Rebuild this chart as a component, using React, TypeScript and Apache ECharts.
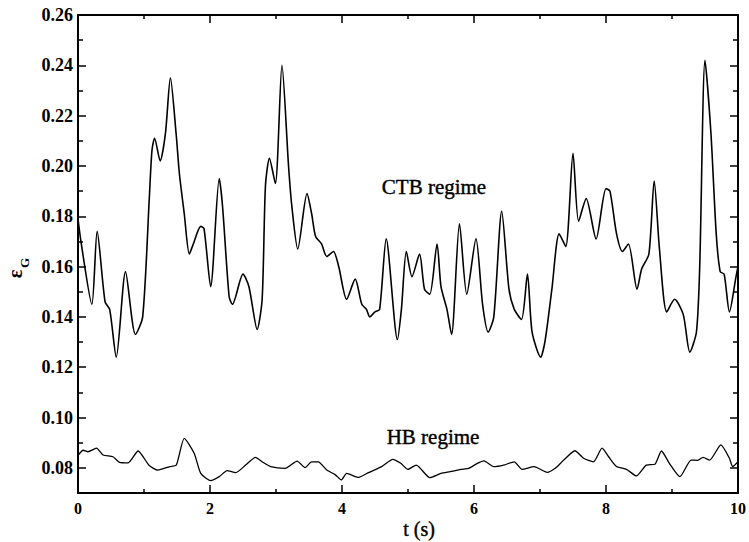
import React, { useEffect, useRef } from "react";
import * as echarts from "echarts";

// CTB regime: [t (s), epsilon_G]
const ctbPoints: [number, number][] = [
  [0, 0.179], [0.05, 0.169], [0.21, 0.145], [0.29, 0.174], [0.41, 0.146], [0.48, 0.143],
  [0.58, 0.124], [0.72, 0.158], [0.87, 0.133], [0.98, 0.140], [1.08, 0.187], [1.12, 0.206],
  [1.16, 0.211], [1.245, 0.202], [1.325, 0.213], [1.40, 0.235], [1.486, 0.213], [1.536, 0.197],
  [1.61, 0.181], [1.687, 0.165], [1.747, 0.169], [1.86, 0.176], [1.91, 0.175], [2.01, 0.152],
  [2.14, 0.195], [2.19, 0.184], [2.29, 0.148], [2.34, 0.145], [2.50, 0.157], [2.59, 0.152],
  [2.715, 0.135], [2.79, 0.147], [2.84, 0.192], [2.90, 0.203], [2.99, 0.193], [3.09, 0.240],
  [3.19, 0.200], [3.24, 0.184], [3.33, 0.167], [3.47, 0.189], [3.54, 0.181], [3.60, 0.172],
  [3.69, 0.169], [3.77, 0.164], [3.87, 0.166], [3.95, 0.160], [4.07, 0.147], [4.20, 0.155],
  [4.30, 0.145], [4.37, 0.143], [4.42, 0.140], [4.50, 0.142], [4.57, 0.143], [4.67, 0.171],
  [4.84, 0.131], [4.90, 0.143], [4.975, 0.166], [5.06, 0.156], [5.175, 0.165], [5.25, 0.151],
  [5.33, 0.149], [5.44, 0.169], [5.50, 0.152], [5.59, 0.143], [5.66, 0.133], [5.78, 0.177],
  [5.89, 0.149], [6.03, 0.171], [6.13, 0.145], [6.215, 0.134], [6.30, 0.140], [6.42, 0.182],
  [6.53, 0.151], [6.61, 0.143], [6.72, 0.139], [6.81, 0.157], [6.88, 0.134], [7.01, 0.124],
  [7.08, 0.131], [7.18, 0.151], [7.29, 0.173], [7.39, 0.168], [7.50, 0.205], [7.585, 0.178],
  [7.70, 0.187], [7.85, 0.171], [8.00, 0.191], [8.06, 0.190], [8.16, 0.173], [8.25, 0.166],
  [8.34, 0.169], [8.47, 0.151], [8.54, 0.159], [8.65, 0.165], [8.73, 0.194], [8.81, 0.167],
  [8.92, 0.142], [9.04, 0.147], [9.17, 0.141], [9.27, 0.126], [9.37, 0.134], [9.42, 0.160],
  [9.50, 0.242], [9.59, 0.213], [9.67, 0.173], [9.73, 0.158], [9.79, 0.157], [9.87, 0.142],
  [9.97, 0.156], [10, 0.160],
];

// HB regime: [t (s), epsilon_G]
const hbPoints: [number, number][] = [
  [0, 0.085], [0.08, 0.087], [0.15, 0.0864], [0.28, 0.0878], [0.38, 0.0851], [0.53, 0.0844],
  [0.63, 0.0822], [0.76, 0.082], [0.91, 0.0867], [1.08, 0.0809], [1.21, 0.0791], [1.39, 0.0805],
  [1.49, 0.0811], [1.61, 0.0917], [1.76, 0.0858], [1.86, 0.0778], [2.01, 0.0749], [2.14, 0.0765],
  [2.26, 0.0789], [2.39, 0.0781], [2.54, 0.0811], [2.69, 0.0842], [2.79, 0.0824], [2.92, 0.0805],
  [3.14, 0.0798], [3.32, 0.0827], [3.44, 0.0801], [3.54, 0.0824], [3.64, 0.0824], [3.77, 0.0791],
  [3.90, 0.0772], [3.99, 0.0752], [4.07, 0.0778], [4.25, 0.0762], [4.40, 0.0781], [4.60, 0.0805],
  [4.77, 0.0834], [4.89, 0.0818], [5.0, 0.0794], [5.125, 0.0811], [5.33, 0.0761], [5.50, 0.0778],
  [5.64, 0.0785], [5.80, 0.0794], [5.92, 0.0798], [6.05, 0.0818], [6.15, 0.0828], [6.30, 0.0805],
  [6.45, 0.0811], [6.61, 0.0824], [6.73, 0.0794], [6.91, 0.0805], [7.11, 0.0782], [7.23, 0.0798],
  [7.36, 0.0831], [7.53, 0.0868], [7.66, 0.0838], [7.81, 0.0824], [7.94, 0.0878], [8.04, 0.0844],
  [8.16, 0.0805], [8.31, 0.0794], [8.46, 0.0768], [8.61, 0.0811], [8.74, 0.0814], [8.84, 0.0867],
  [8.96, 0.0818], [9.12, 0.0765], [9.29, 0.0831], [9.39, 0.083], [9.47, 0.0842], [9.57, 0.0831],
  [9.74, 0.0891], [9.87, 0.0838], [9.92, 0.0805], [10, 0.0824],
];

const yMajorTicks = [0.08, 0.10, 0.12, 0.14, 0.16, 0.18, 0.20, 0.22, 0.24, 0.26];
const yMinorTicks = [0.07, 0.09, 0.11, 0.13, 0.15, 0.17, 0.19, 0.21, 0.23, 0.25];
const xRange = [0, 10];
const yRange = [0.07, 0.26];

const FONT = "Liberation Serif";
const BLACK = "#000";

export default function App() {
  const ref = useRef<HTMLDivElement>(null);
  useEffect(() => {
    if (!ref.current) return;
    const chart = echarts.init(ref.current, undefined, { renderer: "svg" });
    const lineAxis = { show: true, onZero: false, lineStyle: { color: BLACK, width: 2 } };
    const xAxisBase = (pos: "top" | "bottom", labels: boolean) => ({
      type: "value",
      min: xRange[0],
      max: xRange[1],
      interval: 2,
      position: pos,
      axisLine: lineAxis,
      axisTick: { show: true, inside: true, length: 8, lineStyle: { color: BLACK, width: 1.5 } },
      minorTick: { show: true, splitNumber: 2, length: 4, lineStyle: { color: BLACK, width: 1.5 } },
      splitLine: { show: false },
      minorSplitLine: { show: false },
      axisLabel: {
        show: labels,
        color: BLACK,
        fontFamily: FONT,
        fontWeight: "bold",
        fontSize: 16,
        margin: 7,
      },
    });
    const yAxisBase = (pos: "left" | "right", ticks: number[], len: number, labels: boolean) => ({
      type: "value",
      min: yRange[0],
      max: yRange[1],
      position: pos,
      axisLine: lineAxis,
      splitLine: { show: false },
      axisTick: {
        show: true,
        inside: true,
        length: len,
        customValues: ticks,
        lineStyle: { color: BLACK, width: 1.5 },
      },
      axisLabel: {
        show: labels,
        customValues: yMajorTicks,
        formatter: (v: number) => v.toFixed(2),
        color: BLACK,
        fontFamily: FONT,
        fontWeight: "bold",
        fontSize: 18,
        margin: 5,
      },
    });
    const annot = (text: string, x: number, y: number, size: number) => ({
      type: "text",
      x,
      y,
      style: {
        text,
        fontFamily: FONT,
        fontWeight: "normal",
        fontSize: size,
        fill: BLACK,
        stroke: BLACK,
        lineWidth: 0.4,
        align: "center",
        verticalAlign: "middle",
      },
    });
    const rotText = (text: string, x: number, y: number, size: number) => ({
      type: "text",
      x,
      y,
      rotation: Math.PI / 2,
      style: {
        text,
        fontFamily: FONT,
        fontWeight: "bold",
        fontSize: size,
        fill: BLACK,
        align: "center",
        verticalAlign: "middle",
      },
    });
    chart.setOption({
      animation: false,
      backgroundColor: "#fff",
      grid: { left: 78, right: 8, top: 15, bottom: 49, containLabel: false },
      xAxis: [xAxisBase("bottom", true), xAxisBase("top", false)],
      yAxis: [
        yAxisBase("left", yMajorTicks, 8, true),
        yAxisBase("left", yMinorTicks, 5, false),
        yAxisBase("right", yMajorTicks, 8, false),
        yAxisBase("right", yMinorTicks, 5, false),
      ],
      series: [
        {
          name: "CTB regime",
          type: "line",
          data: ctbPoints,
          xAxisIndex: 0,
          yAxisIndex: 0,
          showSymbol: false,
          smooth: 0.25,
          lineStyle: { color: BLACK, width: 1.6 },
        },
        {
          name: "HB regime",
          type: "line",
          data: hbPoints,
          xAxisIndex: 0,
          yAxisIndex: 0,
          showSymbol: false,
          smooth: 0.2,
          lineStyle: { color: BLACK, width: 1.3 },
        },
      ],
      graphic: [
        annot("CTB regime", 434, 187, 21),
        annot("HB regime", 433, 437, 21),
        annot("t (s)", 419, 529, 20),
        rotText("ε", 15, 274, 20),
        rotText("G", 24, 263, 13),
      ],
    });
    return () => chart.dispose();
  }, []);
  return (
    <div
      ref={ref}
      style={{ position: "fixed", left: 0, top: 0, width: 749, height: 542, background: "#fff" }}
    />
  );
}
